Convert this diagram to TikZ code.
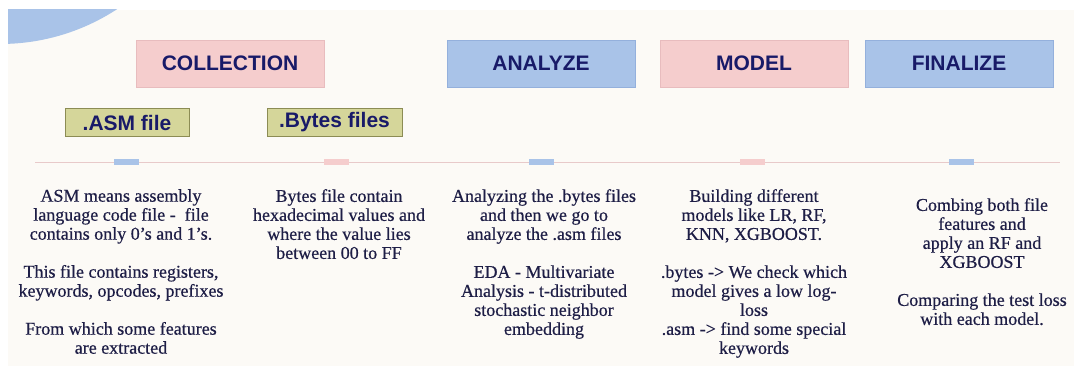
\documentclass[tikz,border=0pt]{standalone}
\usepackage{fontspec}
\setmainfont{Liberation Serif}
\newfontfamily\bodyfont{Liberation Serif}[FakeBold=0.5]
\newfontfamily\headfont{Liberation Sans}
\definecolor{slide_bg}{RGB}{252,250,246}
\definecolor{box_pink}{RGB}{245,205,205}
\definecolor{edge_pink}{RGB}{232,188,190}
\definecolor{box_blue}{RGB}{169,195,232}
\definecolor{edge_blue}{RGB}{148,176,220}
\definecolor{box_olive}{RGB}{213,214,154}
\definecolor{edge_olive}{RGB}{140,140,84}
\definecolor{text_navy}{RGB}{24,26,104}
\definecolor{body_navy}{RGB}{30,30,70}
\definecolor{line_pink}{RGB}{232,202,202}

\begin{document}
\begin{tikzpicture}[x=1pt,y=-1pt]
    \tikzstyle{head}=[minimum width=188pt, minimum height=47pt, inner sep=0pt, font=\headfont\bfseries\fontsize{21}{24}\selectfont, text=text_navy]
    \tikzstyle{headpink}=[head, fill=box_pink, draw=edge_pink, line width=0.6pt]
    \tikzstyle{headblue}=[head, fill=box_blue, draw=edge_blue, line width=0.6pt]
    \tikzstyle{filebox}=[fill=box_olive, draw=edge_olive, line width=0.7pt, minimum height=28pt, inner sep=0pt, font=\headfont\bfseries\fontsize{21}{24}\selectfont, text=text_navy]
    \tikzstyle{tickbox}=[minimum width=25pt, minimum height=6pt, inner sep=0pt]
    \tikzstyle{body}=[anchor=north, align=center, inner sep=0pt, font=\bodyfont\fontsize{18}{19}\selectfont, text=body_navy]

    % background and corner circle
    \fill[white] (0,0) rectangle (1074,369);
    \fill[slide_bg] (8,10) rectangle (1074,366);
    \begin{scope}
      \clip (8,10) rectangle (1074,366);
      \fill[box_blue] (0,-170) circle (214pt);
    \end{scope}

    % stage headers
    \node[headpink] (coll)  at (230,63.5)   {COLLECTION};
    \node[headblue] (anal)  at (541,63.5)   {ANALYZE};
    \node[headpink] (model) at (754,63.5)   {MODEL};
    \node[headblue] (final) at (959,63.5)   {FINALIZE};

    \node[filebox, minimum width=124pt] (asm)   at (127,122.5) {.ASM file};
    \node[filebox, minimum width=135pt] (bytes) at (334.5,122)  {.Bytes files};

    % timeline
    \coordinate (tl_start) at (35,162);
    \coordinate (tl_end)   at (1060,162);
    \draw[line_pink, line width=0.8pt] (tl_start) -- (tl_end);
    \node[tickbox, fill=box_blue] (t1) at (126.5,162) {};
    \node[tickbox, fill=box_pink] (t2) at (336.5,162) {};
    \node[tickbox, fill=box_blue] (t3) at (541.5,162) {};
    \node[tickbox, fill=box_pink] (t4) at (752,162)   {};
    \node[tickbox, fill=box_blue] (t5) at (961,162)   {};

    % descriptions
    \node[body] (d1) at (121,189) {ASM means assembly\\ language code file -\ \ file\\ contains only 0’s and 1’s.\\[19pt]
      This file contains registers,\\ keywords, opcodes, prefixes\\[19pt] From which some features\\ are extracted};
    \node[body] (d2) at (339,189) {Bytes file contain\\ hexadecimal values and\\ where the value lies\\ between 00 to FF};
    \node[body] (d3) at (544,189) {Analyzing the .bytes files\\ and then we go to\\ analyze the .asm files\\[19pt]
      EDA - Multivariate\\ Analysis - t-distributed\\ stochastic neighbor\\ embedding};
    \node[body] (d4) at (754,189) {Building different\\ models like LR, RF,\\ KNN, XGBOOST.\\[19pt]
      .bytes -> We check which\\ model gives a low log-\\ loss\\ .asm -> find some special\\ keywords};
    \node[body] (d5) at (982,198) {Combing both file\\ features and\\ apply an RF and\\ XGBOOST\\[19pt]
      Comparing the test loss\\ with each model.};
\end{tikzpicture}
\end{document}
